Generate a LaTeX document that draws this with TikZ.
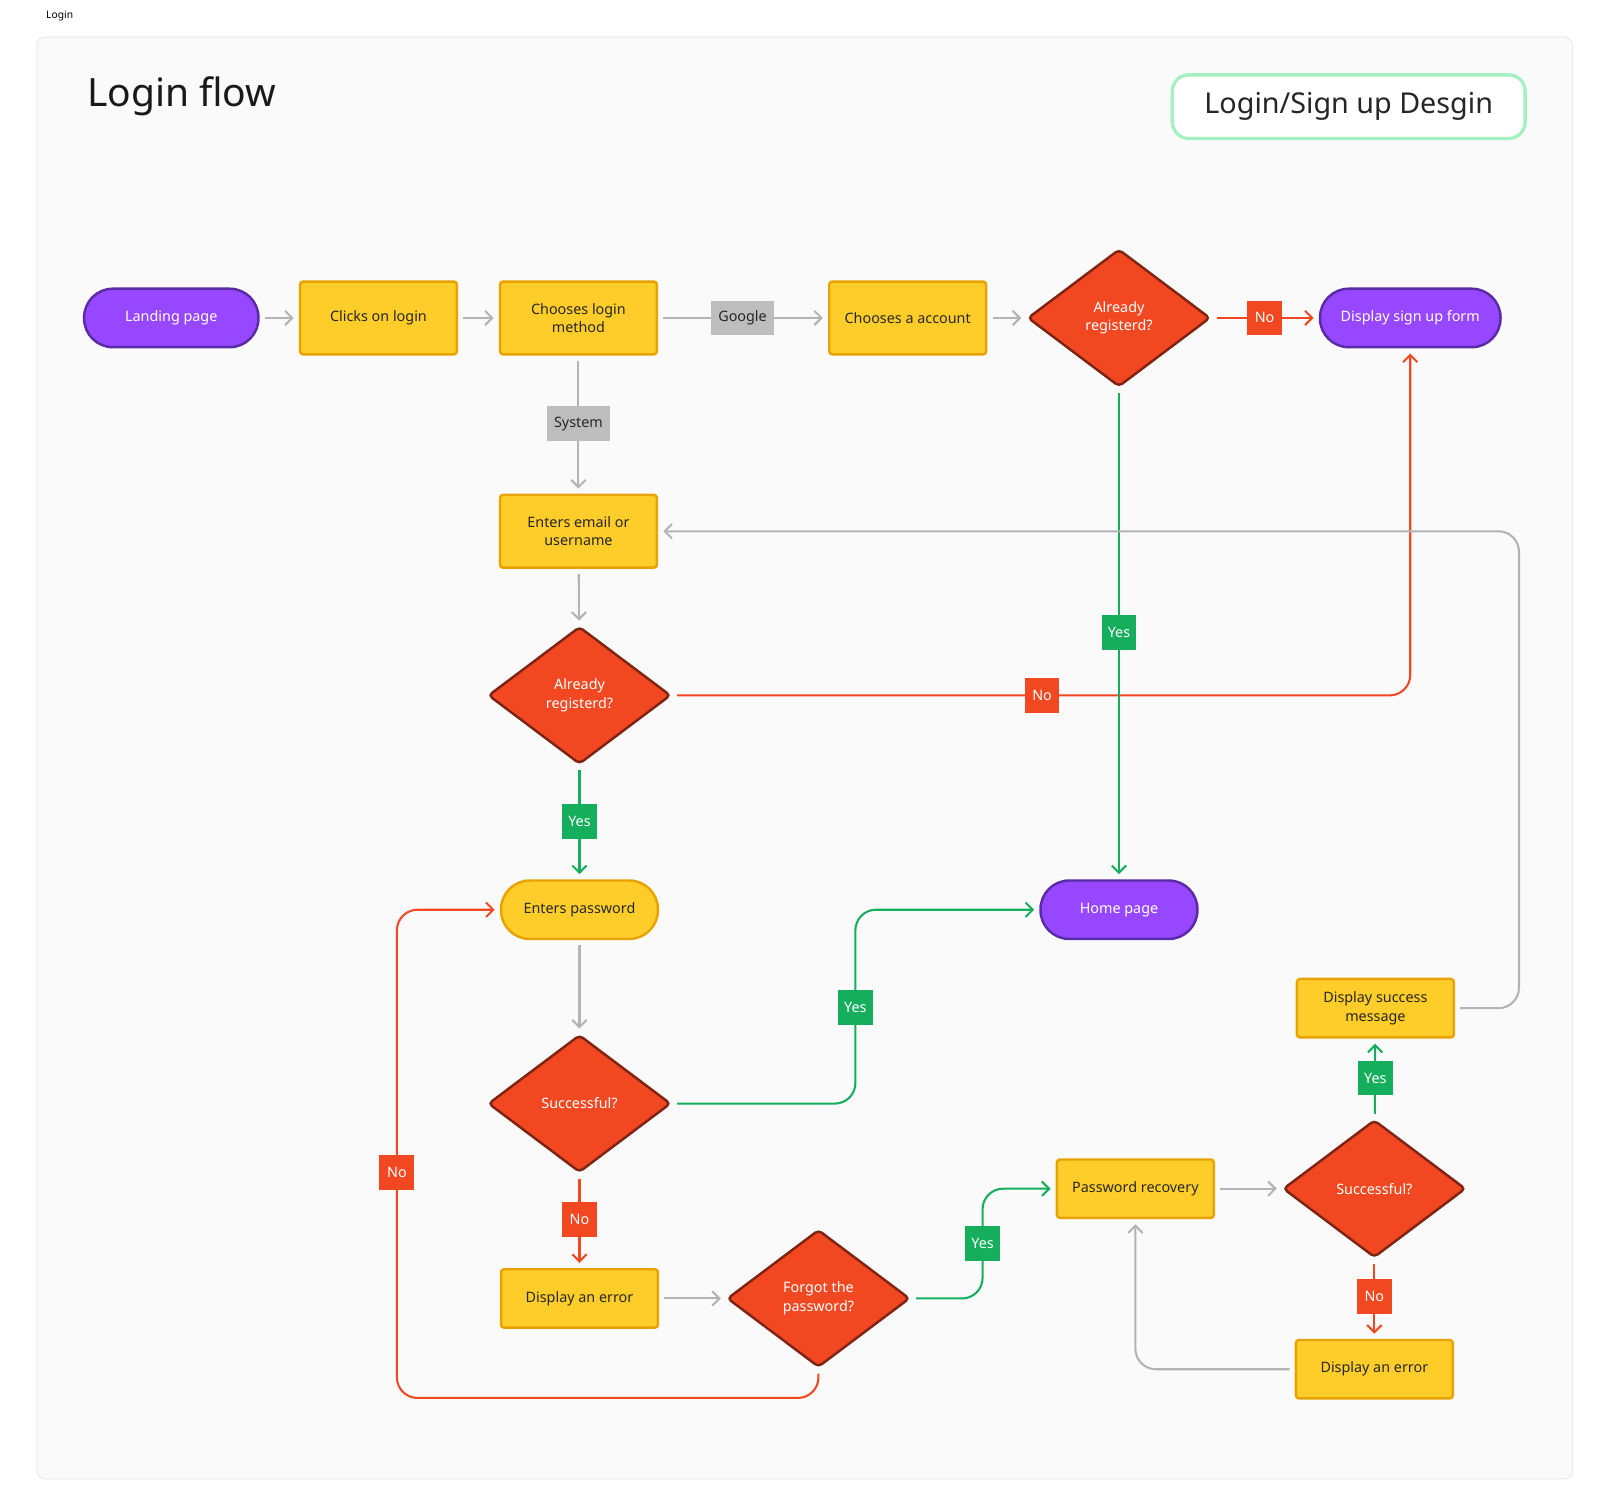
\documentclass[tikz,border=0pt]{standalone}
\usepackage{fontspec}
\setmainfont{Noto Sans}
\usetikzlibrary{shapes.geometric,arrows.meta}
\definecolor{ylw}{HTML}{FFCD29}
\definecolor{ylwb}{HTML}{E8A302}
\definecolor{prp}{HTML}{9747FF}
\definecolor{prpb}{HTML}{5A2BA6}
\definecolor{rd}{HTML}{F24822}
\definecolor{rdb}{HTML}{7F2412}
\definecolor{grn}{HTML}{14AE5C}
\definecolor{gry}{HTML}{B3B3B3}
\definecolor{lblg}{HTML}{BDBDBD}
\definecolor{frm}{HTML}{FAFAFA}
\definecolor{frmb}{HTML}{E6E6E6}
\definecolor{ttl}{HTML}{A6EFC0}
\tikzset{
  x=0.5pt,y=-0.5pt,
  every node/.style={font=\fontsize{7}{9}\selectfont},
  ybox/.style={draw=ylwb,fill=ylw,line width=1.2pt,minimum width=76.5pt,minimum height=35.5pt,rounded corners=1.5pt,align=center,text=black!85},
  ypill/.style={draw=ylwb,fill=ylw,line width=1.2pt,minimum width=76.5pt,minimum height=28.5pt,rounded corners=14pt,align=center,text=black!85},
  ppill/.style={draw=prpb,fill=prp,line width=1.2pt,minimum width=#1,minimum height=28.5pt,rounded corners=14pt,align=center,text=white},
  ppill/.default=76.5pt,
  dia/.style={diamond,draw=rdb,fill=rd,line width=1.2pt,minimum width=89pt,minimum height=67pt,inner sep=0pt,rounded corners=2pt,align=center,text=white},
  glbl/.style={fill=lblg,minimum width=31pt,minimum height=17pt,inner sep=1pt,text=black!85},
  yes/.style={fill=grn,minimum width=17pt,minimum height=17pt,inner sep=1pt,text=white},
  no/.style={fill=rd,minimum width=17pt,minimum height=17pt,inner sep=1pt,text=white},
  garr/.style={draw=gry,line width=1pt,-{Straight Barb[length=3.5pt,width=7pt]},shorten >=2.5pt,shorten <=2.5pt,rounded corners=10pt},
  rarr/.style={garr,draw=rd},
  narr/.style={garr,draw=grn},
}
\begin{document}
\begin{tikzpicture}
\useasboundingbox (0,0) rectangle (1560,1470);
\fill[white] (0,0) rectangle (1560,1470);
\draw[frmb,fill=frm,rounded corners=4pt] (36,36) rectangle (1533,1442);
\node[anchor=west,font=\fontsize{5}{6}\selectfont] (tag) at (38,16) {Login};
\node[anchor=west,font=\fontsize{19}{22}\bfseries\selectfont,text=black!90] (title) at (78,94) {Login flow};
\node[draw=ttl,line width=1.6pt,fill=white,rounded corners=8pt,minimum width=172pt,minimum height=31pt,font=\fontsize{14}{16}\selectfont,text=black!85] (tbox) at (1315,104) {Login/Sign up Desgin};

% nodes
\node[ppill=85pt] (land) at (167,310) {Landing page};
\node[ybox] (click) at (369,310) {Clicks on login};
\node[ybox] (method) at (564,310) {Chooses login\\method};
\node[ybox] (acct) at (885,310) {Chooses a account};
\node[dia] (d1) at (1091,310) {Already\\registerd?};
\node[ppill=88pt] (form) at (1375,310) {Display sign up form};
\node[ybox] (email) at (564,518) {Enters email or\\username};
\node[dia] (d2) at (565,678) {Already\\registerd?};
\node[ypill] (pass) at (565,887) {Enters password};
\node[ppill] (home) at (1091,887) {Home page};
\node[dia] (d3) at (565,1076) {Successful?};
\node[ypill,rounded corners=1.5pt] (err1) at (565,1266) {Display an error};
\node[dia] (d4) at (798,1266) {Forgot the\\password?};
\node[ypill,rounded corners=1.5pt] (rec) at (1107,1159) {Password recovery};
\node[dia] (d5) at (1340,1159) {Successful?};
\node[ypill,rounded corners=1.5pt] (err2) at (1340,1335) {Display an error};
\node[ypill,rounded corners=1.5pt] (succ) at (1341,983) {Display success\\message};

% connectors
\draw[garr] (land) -- (click);
\draw[garr] (click) -- (method);
\draw[garr] (method) -- (acct);
\draw[garr] (acct) -- (d1);
\draw[rarr] (d1) -- (form);
\draw[garr] (method) -- (email);
\draw[garr] (email) -- (d2);
\draw[narr] (d2) -- (pass);
\draw[rarr] (d2.east) -- (1375,678) -- (form.south);
\draw[narr] (d1.south) -- (home.north);
\draw[garr] (pass) -- (d3);
\draw[narr] (d3.east) -- (834,1076) -- (834,887) -- (home.west);
\draw[rarr] (d3) -- (err1);
\draw[garr] (err1) -- (d4);
\draw[rarr] (d4.south) -- (798,1363) -- (387,1363) -- (387,887) -- (pass.west);
\draw[narr] (d4.east) -- (958,1266) -- (958,1159) -- (rec.west);
\draw[garr] (rec) -- (d5);
\draw[rarr] (d5) -- (err2);
\draw[garr] (err2.west) -- (1107,1335) -- (rec.south);
\draw[narr] (d5) -- (succ);
\draw[garr] (succ.east) -- (1481,983) -- (1481,518) -- (email.east);

% labels
\node[glbl] (lg) at (724,310) {Google};
\node[glbl] (ls) at (564,413) {System};
\node[no] (n1) at (1233,310) {No};
\node[no] (n2) at (1016,678) {No};
\node[yes] (y1) at (1091,617) {Yes};
\node[yes] (y2) at (565,801) {Yes};
\node[yes] (y3) at (834,982) {Yes};
\node[no] (n3) at (565,1189) {No};
\node[no] (n4) at (387,1143) {No};
\node[yes] (y4) at (958,1212) {Yes};
\node[no] (n5) at (1340,1264) {No};
\node[yes] (y5) at (1341,1051) {Yes};
\end{tikzpicture}
\end{document}
